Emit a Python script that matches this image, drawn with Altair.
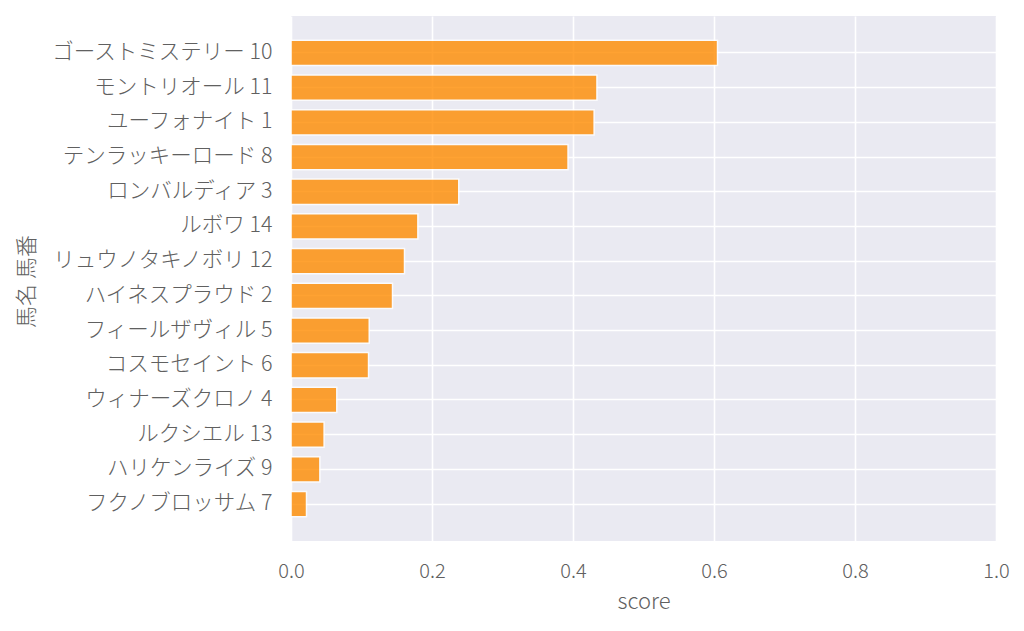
import altair as alt
import pandas as pd

names = [
    "ゴーストミステリー 10",
    "モントリオール 11",
    "ユーフォナイト 1",
    "テンラッキーロード 8",
    "ロンバルディア 3",
    "ルボワ 14",
    "リュウノタキノボリ 12",
    "ハイネスプラウド 2",
    "フィールザヴィル 5",
    "コスモセイント 6",
    "ウィナーズクロノ 4",
    "ルクシエル 13",
    "ハリケンライズ 9",
    "フクノブロッサム 7",
]
scores = [0.605, 0.434, 0.430, 0.393, 0.238, 0.180, 0.161,
          0.144, 0.111, 0.110, 0.065, 0.047, 0.041, 0.022]
x_ticks = [0.0, 0.2, 0.4, 0.6, 0.8, 1.0]

df = pd.DataFrame({"name": names, "score": scores})

FONT = "Noto Sans CJK JP"
TXT = "#606060"

chart = (
    alt.Chart(df)
    .mark_bar(color="darkorange", opacity=0.8, stroke="white", strokeWidth=1.5)
    .encode(
        x=alt.X(
            "score:Q",
            title="score",
            scale=alt.Scale(domain=[0, 1], nice=False, zero=True),
            axis=alt.Axis(values=x_ticks, format=".1f", labelPadding=20, titlePadding=10,
                          labelFlush=False, labelFontSize=20, titleFontSize=22),
        ),
        y=alt.Y(
            "name:N",
            title="馬名 馬番",
            sort=names,
            scale=alt.Scale(paddingInner=0.27, paddingOuter=0.7),
            axis=alt.Axis(labelPadding=19, bandPosition=0.5,
                          labelFontSize=21.5, titleFontSize=22,
                          titleX=-253, titleY=265, titleAngle=270,
                          titleAlign="center", titleBaseline="bottom"),
        ),
    )
    .properties(width=705, height=525, padding={"left": 7, "top": 8, "right": 5, "bottom": 5})
    .configure_view(fill="#EAEAF2", stroke=None)
    .configure_axis(
        grid=True,
        gridColor="white",
        gridWidth=1.6,
        gridOpacity=1,
        domain=False,
        ticks=False,
        labelFont=FONT,
        labelFontWeight=300,
        labelColor=TXT,
        titleFont=FONT,
        titleFontWeight=300,
        titleColor=TXT,
        labelLimit=400,
    )
)

chart.save("out.html", embed_options={"renderer": "svg", "actions": False})
